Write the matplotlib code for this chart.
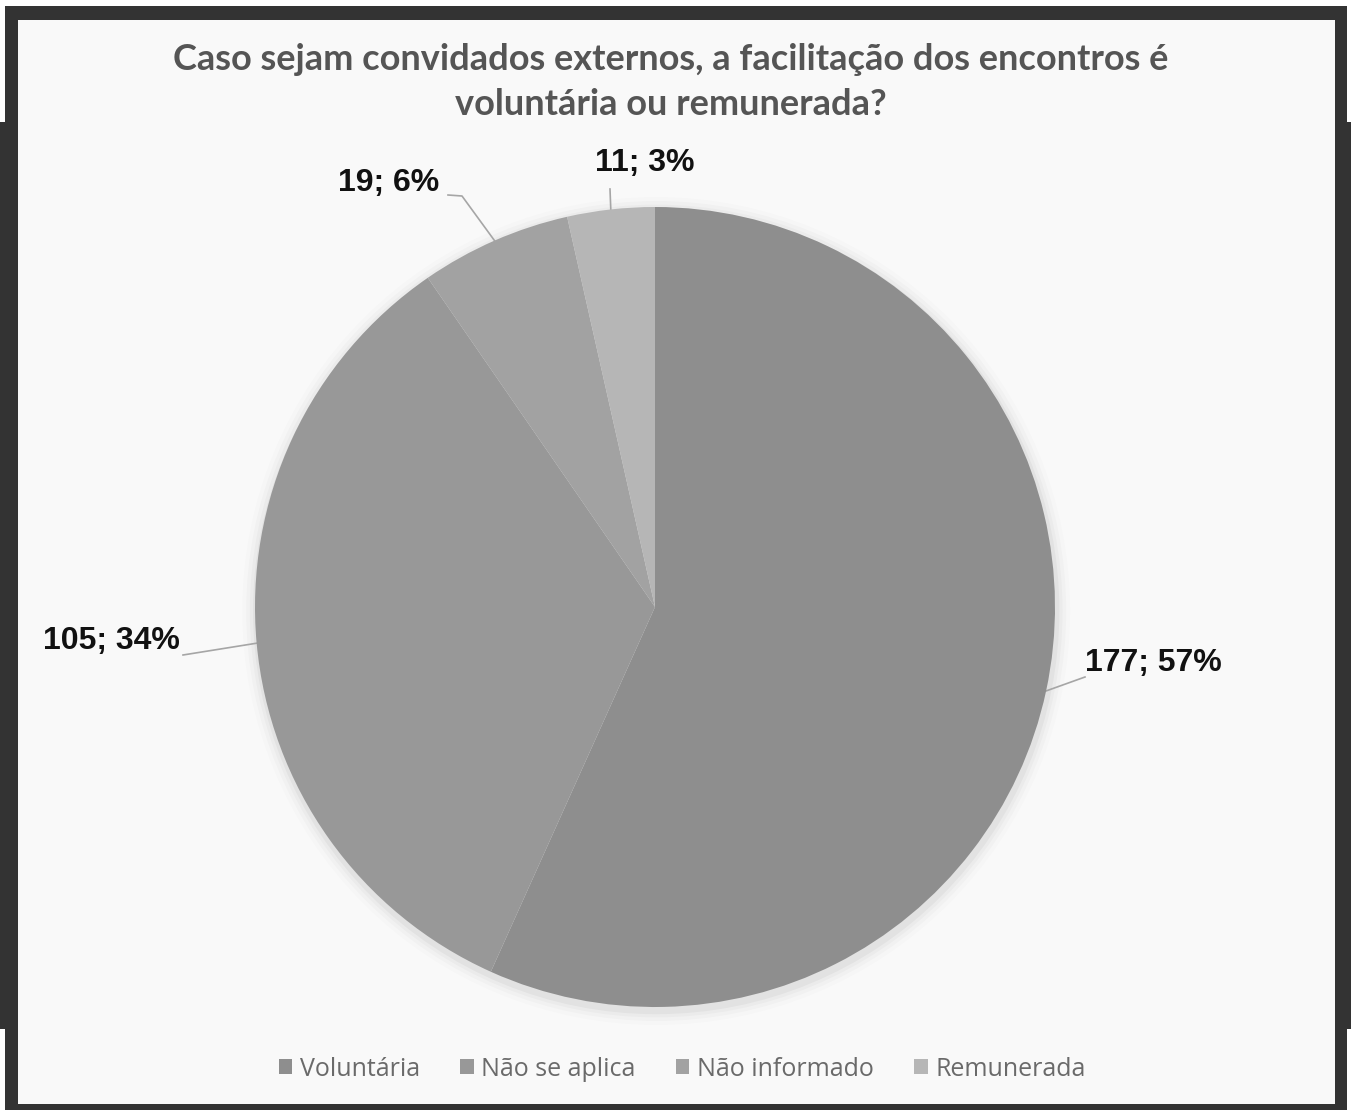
import numpy as np
import matplotlib
matplotlib.use("Agg")
import matplotlib.pyplot as plt
from matplotlib.patches import Rectangle, Patch, Circle

categories = ["Voluntária", "Não se aplica", "Não informado", "Remunerada"]
values = [177, 105, 19, 11]
percent_labels = ["57%", "34%", "6%", "3%"]
colors = ["#8e8e8e", "#989898", "#a2a2a2", "#b6b6b6"]
title = "Caso sejam convidados externos, a facilitação dos encontros é\nvoluntária ou remunerada?"

W, H = 1351, 1110
fig = plt.figure(figsize=(W / 100, H / 100), dpi=100)
fig.patch.set_facecolor("white")

def frect(x0, y0, x1, y1, color, z=0):
    # pixel coords (top-left origin) -> figure fraction
    fig.patches.append(Rectangle((x0 / W, 1 - y1 / H), (x1 - x0) / W, (y1 - y0) / H,
                                 transform=fig.transFigure, facecolor=color,
                                 edgecolor="none", zorder=z))

frect(5, 6, 1347, 1110, "#333333", -3)
frect(0, 122, 1351, 1029, "#333333", -3)
frect(18, 20, 1335, 1104, "#f9f9f9", -2)

# pie axes: center (655, 607) radius 400 px
cx, cy, r = 655, 607, 400
ax = fig.add_axes([(cx - r) / W, 1 - (cy + r) / H, 2 * r / W, 2 * r / H])
ax.set_zorder(5)
ax.patch.set_alpha(0)

# soft shadow
for k, a in zip([1.035, 1.025, 1.016, 1.008], [0.012, 0.018, 0.025, 0.035]):
    ax.add_patch(Circle((0.003, -0.01), k, facecolor="black", alpha=a,
                        edgecolor="none", zorder=0, clip_on=False))

wedges, _ = ax.pie(values, colors=colors, startangle=90, counterclock=False,
                   radius=1, wedgeprops=dict(edgecolor="none"))
for w in wedges:
    w.set_zorder(2)
ax.set_xlim(-1, 1)
ax.set_ylim(-1, 1)
ax.set_aspect("auto")
ax.axis("off")

labels = [f"{v}; {p}" for v, p in zip(values, percent_labels)]
# text anchor and leader path (data units) for each label
text_pos = [(1.075, -0.14), (-1.1875, -0.085), (-0.54, 1.06), (-0.025, 1.11)]
text_ha = ["left", "right", "right", "center"]
leader_pts = [[(1.075, -0.175)], [(-1.18, -0.12)], [(-0.5175, 1.03), (-0.4825, 1.0275)],
              [(-0.1125, 1.045)]]

total = sum(values)
start = 90.0
for i, v in enumerate(values):
    sweep = 360.0 * v / total
    mid = np.deg2rad(start - sweep / 2)
    start -= sweep
    ex, ey = np.cos(mid), np.sin(mid)
    pts = leader_pts[i] + [(ex, ey)]
    xs = [p[0] for p in pts]
    ys = [p[1] for p in pts]
    ax.plot(xs, ys, color="#a6a6a6", lw=1.2, zorder=1, clip_on=False)
    ax.text(text_pos[i][0], text_pos[i][1], labels[i], ha=text_ha[i], va="center",
            fontsize=23, fontweight="bold", family="Liberation Sans", color="#111111",
            zorder=3, clip_on=False)

fig.text(671 / W, 1 - 82 / H, title, ha="center", va="center", fontsize=26,
         fontweight="bold", family="Lato", color="#555555", linespacing=1.45)

handles = [Patch(facecolor=c, edgecolor="none") for c in colors]
leg = fig.legend(handles, categories, loc="center", bbox_to_anchor=(682 / W, 1 - 1069 / H),
                 ncol=4, frameon=False, handlelength=0.55, handleheight=0.55,
                 handletextpad=0.3, columnspacing=1.6,
                 prop={"family": "Open Sans", "size": 18})
for t in leg.get_texts():
    t.set_color("#6a6a6a")

fig.savefig("out.png", dpi=100, facecolor=fig.get_facecolor())
